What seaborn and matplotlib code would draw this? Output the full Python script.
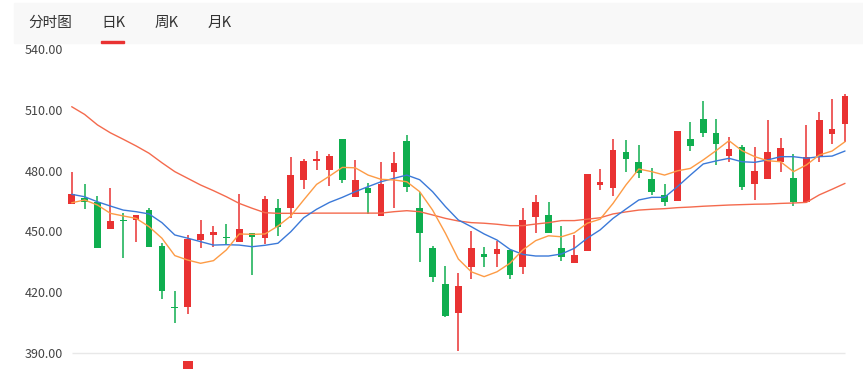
import numpy as np
import pandas as pd
import seaborn as sns
import matplotlib.pyplot as plt
from matplotlib.patches import Rectangle

# --- 数据 ---
opens = [463.4, 466.6, 464.6, 451.0, 455.6, 455.4, 460.4, 442.9, 412.7, 412.4,
         445.9, 448.3, 447.2, 444.9, 449.3, 446.8, 461.4, 461.4, 475.4, 484.6,
         480.3, 495.5, 467.1, 471.4, 457.7, 479.3, 494.6, 461.7, 441.9, 423.8,
         409.5, 432.5, 438.8, 438.8, 440.8, 432.5, 457.2, 458.1, 441.6, 434.5,
         440.4, 473.0, 471.3, 489.4, 484.4, 475.9, 468.0, 465.1, 495.6, 505.5,
         498.7, 487.4, 491.7, 473.2, 476.0, 484.4, 476.5, 464.3, 487.2, 498.0,
         503.2]
closes = [468.4, 464.6, 441.9, 455.0, 455.1, 457.9, 442.4, 420.5, 412.2, 446.2,
          448.7, 449.8, 446.5, 451.0, 447.0, 466.0, 452.3, 477.7, 484.8, 485.7,
          487.1, 475.4, 475.4, 468.8, 473.2, 483.6, 472.1, 449.0, 427.4, 408.3,
          423.0, 441.8, 437.5, 441.1, 428.4, 455.6, 464.3, 449.0, 437.5, 438.3,
          478.4, 474.5, 490.2, 485.6, 478.7, 469.6, 464.3, 499.6, 492.3, 498.5,
          493.3, 490.7, 472.1, 479.8, 489.2, 491.3, 464.3, 486.6, 504.9, 500.6,
          517.0]
highs = [479.5, 473.4, 467.5, 471.4, 458.9, 457.9, 461.5, 444.4, 420.5, 448.2,
         455.6, 452.6, 453.5, 468.4, 449.3, 467.5, 466.0, 486.9, 485.7, 489.7,
         488.2, 495.5, 485.3, 473.7, 484.1, 489.2, 497.5, 469.6, 442.9, 432.9,
         429.2, 450.2, 442.4, 445.4, 440.8, 461.7, 468.0, 464.3, 452.6, 448.2,
         478.4, 480.8, 495.5, 495.1, 492.7, 481.1, 473.4, 499.6, 504.0, 514.4,
         505.4, 496.5, 492.5, 491.8, 504.9, 496.1, 488.2, 502.6, 508.8, 515.4,
         517.9]
lows = [463.4, 461.0, 441.9, 451.0, 436.7, 444.9, 442.4, 416.4, 404.8, 409.0,
        441.6, 442.1, 443.2, 444.9, 428.4, 443.7, 447.7, 456.7, 471.1, 480.3,
        472.4, 473.7, 467.1, 458.6, 457.7, 461.5, 469.6, 435.0, 425.1, 407.8,
        390.8, 426.6, 432.5, 432.5, 426.6, 428.8, 449.0, 449.0, 435.5, 434.5,
        440.4, 470.4, 467.5, 479.5, 476.2, 468.0, 462.5, 465.1, 489.9, 496.5,
        482.8, 484.4, 470.4, 465.5, 475.7, 479.5, 462.5, 464.3, 484.4, 493.0,
        494.3]

ma5 = [464.1, 465.5, 463.0, 458.9, 457.6, 456.4, 452.3, 446.6, 438.0, 435.8,
       434.2, 435.5, 440.8, 448.7, 448.5, 448.7, 452.6, 457.6, 465.5, 473.2,
       477.3, 481.6, 481.4, 477.8, 475.7, 475.4, 474.5, 469.6, 460.5, 449.0,
       436.3, 430.0, 427.6, 430.0, 434.2, 440.8, 445.4, 447.8, 447.3, 449.3,
       454.0, 456.0, 463.8, 472.9, 480.8, 479.5, 477.8, 479.9, 481.1, 485.3,
       489.9, 494.8, 489.9, 486.9, 484.9, 484.4, 479.5, 482.8, 487.7, 489.7,
       494.3]
ma10 = [468.3, 467.1, 464.6, 462.5, 460.5, 459.7, 458.6, 454.3, 448.2, 446.6,
        444.9, 443.2, 443.4, 443.2, 442.4, 443.1, 444.1, 449.8, 456.7, 460.9,
        464.3, 466.8, 469.6, 472.1, 474.5, 476.2, 477.8, 475.5, 469.6, 462.2,
        455.6, 452.3, 448.7, 445.7, 441.1, 438.6, 437.8, 437.8, 438.8, 441.6,
        446.6, 450.7, 456.4, 461.0, 465.5, 466.8, 466.8, 472.1, 477.8, 483.3,
        484.8, 486.1, 484.4, 484.1, 485.3, 486.9, 486.9, 486.1, 486.9, 487.2,
        489.7]
ma30 = [511.6, 507.8, 502.6, 498.7, 495.5, 492.2, 488.6, 483.9, 479.5, 476.2,
        472.9, 470.1, 467.1, 463.8, 461.4, 459.2, 458.9, 458.9, 458.9, 459.0,
        459.0, 459.0, 459.0, 459.0, 459.0, 459.7, 460.2, 459.7, 458.1, 456.4,
        455.1, 454.3, 454.0, 453.5, 452.8, 452.8, 453.6, 454.3, 455.3, 455.3,
        456.0, 456.7, 458.6, 459.6, 460.5, 460.9, 461.2, 461.7, 462.0, 462.4,
        462.7, 463.0, 463.2, 463.4, 463.5, 463.8, 464.0, 464.3, 468.0, 470.8,
        473.7]

tabs = ['分时图', '日K', '周K', '月K']
y_ticks = [390, 420, 450, 480, 510, 540]
vol_visible_idx = 9  # 成交量图里只露出顶部的那根柱子

# --- 样式 ---
sns.set_theme(style='white')
plt.rcParams['font.family'] = ['Noto Sans CJK SC', 'DejaVu Sans']

RED = '#e93232'
GREEN = '#0fae4f'
C_MA5 = '#fd9b45'
C_MA10 = '#3b79d8'
C_MA30 = '#f46a4d'

W, H = 863, 369
fig = plt.figure(figsize=(W / 100, H / 100), dpi=100)

# 顶部标签栏
fig.patches.append(Rectangle((14 / W, 1 - 43 / H), (W - 14) / W, 40 / H,
                             transform=fig.transFigure, color='#f8f8f8', zorder=0))
tab_x = [50, 113.5, 166.5, 220]
for t, x in zip(tabs, tab_x):
    fig.text(x / W, 1 - 23 / H, t, ha='center', va='center', fontsize=10.5, color='#333333')
fig.patches.append(Rectangle((101 / W, 1 - 43 / H), 23 / W, 2 / H,
                             transform=fig.transFigure, color=RED, zorder=1))

# --- K线主图 ---
left, right = 65.25, 851.45
top_px, bot_px = 44, 356
ax = fig.add_axes([left / W, 1 - bot_px / H, (right - left) / W, (bot_px - top_px) / H])
ax.patch.set_alpha(0)

n = len(opens)
x = np.arange(n)
df = pd.DataFrame({'x': x, 'open': opens, 'close': closes, 'high': highs, 'low': lows,
                   'MA5': ma5, 'MA10': ma10, 'MA30': ma30})
colors = [RED if c >= o else GREEN for o, c in zip(df['open'], df['close'])]

ax.vlines(df['x'], df['low'], df['high'], colors=colors, linewidth=1.1, zorder=2)
body = (df['close'] - df['open']).abs().clip(lower=0.6)
ax.bar(df['x'], body, bottom=df[['open', 'close']].min(axis=1), width=0.52,
       color=colors, linewidth=0, zorder=3)

for col, c in [('MA30', C_MA30), ('MA10', C_MA10), ('MA5', C_MA5)]:
    sns.lineplot(data=df, x='x', y=col, color=c, linewidth=1.0, ax=ax, zorder=4)

ax.hlines(390, 0, n - 1, color='#e8e8e8', linewidth=1, zorder=1)

ax.set_xlim(-0.5, n - 0.5)
ax.set_ylim(388.37, 542.6)
ax.set_yticks(y_ticks)
ax.set_yticklabels([f'{v:.2f}' for v in y_ticks], fontsize=9, color='#444444')
ax.tick_params(axis='y', length=0, pad=1.5)
ax.set_xticks([])
ax.set_xlabel('')
ax.set_ylabel('')
for s in ax.spines.values():
    s.set_visible(False)

# --- 成交量 (只看得到一根) ---
vax = fig.add_axes([left / W, 0, (right - left) / W, 8 / H])
vax.bar([vol_visible_idx], [1], width=0.78, color=RED, linewidth=0)
vax.set_xlim(-0.5, n - 0.5)
vax.set_ylim(0, 1)
vax.axis('off')

fig.savefig('out.png', dpi=100)
